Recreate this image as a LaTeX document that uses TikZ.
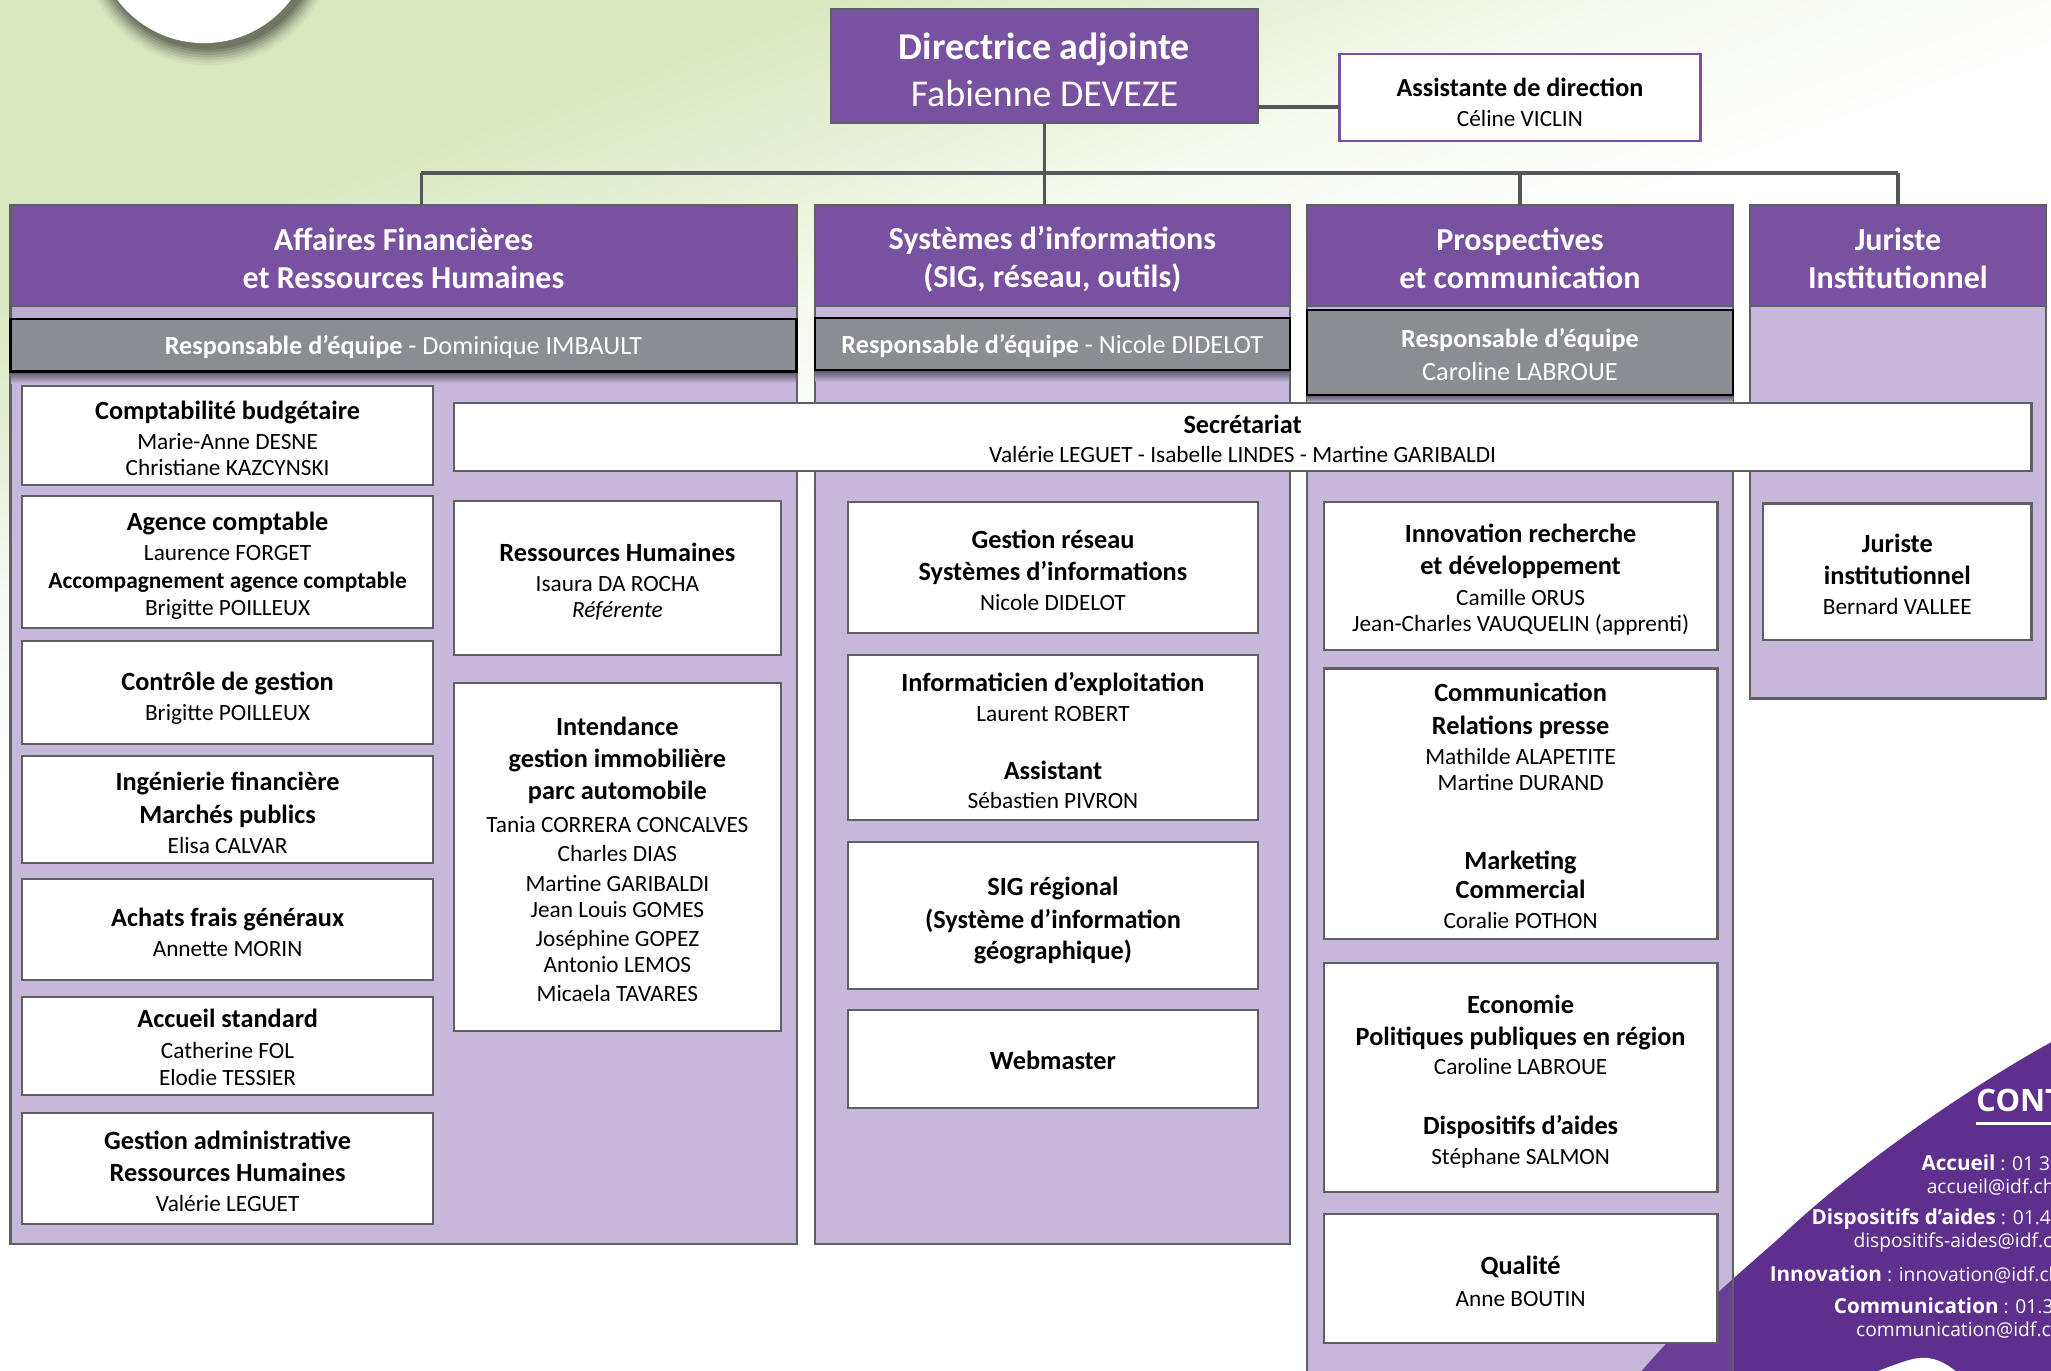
\documentclass[tikz,border=0pt]{standalone}
\usepackage{fontspec}
\setmainfont{Carlito}
\newfontfamily\contactfont{Open Sans}
\definecolor{headp}{HTML}{7851A0}
\definecolor{bodyp}{HTML}{C5B8DA}
\definecolor{blobp}{HTML}{5F2F8E}
\definecolor{blobq}{HTML}{6A3D96}
\definecolor{respg}{HTML}{8A8D91}
\definecolor{edgeg}{HTML}{5F6064}
\definecolor{linkg}{HTML}{54565A}
\definecolor{shadowg}{HTML}{3A3C32}
\definecolor{bga}{HTML}{DAE8C0}
\definecolor{bgb}{HTML}{EAF2DC}
\definecolor{bgc}{HTML}{F6FAF0}
\pgfdeclareverticalshading{bgshade}{3000bp}{color(0bp)=(white); color(1091bp)=(white); color(1165bp)=(bgc); color(1206bp)=(bgb); color(1270bp)=(bga); color(2000bp)=(bga)}
\newcommand{\strutx}{\vrule width 0pt height 7pt depth 3pt}
\newcommand{\hstr}{\vrule width 0pt height 11.4pt depth 0.6pt}
\newcommand{\tstr}{\vrule width 0pt height 13.5pt depth 0.4pt}
\newcommand{\astr}{\vrule width 0pt height 10.8pt depth 0.2pt}
\newcommand{\rstr}{\vrule width 0pt height 9pt depth 0.5pt}
\newcommand{\qstr}{\vrule width 0pt height 9.5pt depth 0.5pt}
\newcommand{\T}[1]{{\fontsize{10.05}{10}\selectfont\bfseries\strutx #1}}
\newcommand{\Ts}[1]{{\fontsize{8.95}{10}\selectfont\bfseries\strutx #1}}
\newcommand{\N}[1]{{\fontsize{8.9}{10}\selectfont\strutx #1}}
\newcommand{\I}[1]{{\fontsize{8.9}{10}\selectfont\itshape\strutx #1}}
\newcommand{\B}[1]{{\fontsize{7.9}{10}\selectfont\bfseries #1}}
\newcommand{\bx}[7]{%
  \node[boxst,minimum width={(#4-#2)*0.5},minimum height={(#5-#3)*0.5}] (#1) at ({(#2+#4)/2},{(#3+#5)/2}) {};
  \node[textst] (#1-t) at ({(#2+#4)/2},{#6+2.5}) {#7};}
\tikzset{
  x=0.5pt,y=-0.5pt,
  boxst/.style={draw=edgeg,fill=white,line width=0.85pt,inner sep=0pt,outer sep=0pt},
  textst/.style={align=center,inner sep=0pt,outer sep=0pt,text=black,font=\fontsize{9}{10}\selectfont\lineskiplimit -20pt},
  headst/.style={draw=edgeg,fill=headp,line width=0.8pt,inner sep=0pt,outer sep=0pt,text=white,align=center,font=\fontsize{12.25}{14.5}\selectfont\bfseries\lineskiplimit -20pt},
  bodyst/.style={draw=edgeg,fill=bodyp,line width=0.8pt,inner sep=0pt,outer sep=0pt},
  respst/.style={draw=black,fill=respg,line width=0.9pt,inner sep=0pt,outer sep=0pt,text=white,align=center,font=\fontsize{10.03}{12.5}\selectfont\lineskiplimit -20pt},
  linkst/.style={draw=linkg,line width=1.2pt},
  shadest/.style={top color=black!55!bodyp,bottom color=bodyp,draw=none},
  contactst/.style={anchor=west,inner sep=0pt,outer sep=0pt,text=white,font=\contactfont\fontsize{7.35}{10}\selectfont},
}
\def\blobpath{(1575,793) .. controls (1510,828) and (1420,890) .. (1364,943) .. controls (1340,965) and (1290,1005) .. (1245,1060) -- (1575,1060) -- cycle}
\begin{document}
\begin{tikzpicture}
\useasboundingbox (0,0) rectangle (1568,1048.1);
\clip (0,0) rectangle (1568,1048.1);
% background
\node[inner sep=0pt,rotate=19.8] (bg) at (784,524) {\pgfuseshading{bgshade}};
% round logo with shadow
\foreach \r/\o in {97/0.05,95/0.07,93/0.10,91/0.13,89/0.16,87/0.20,85/0.25}{
  \fill[shadowg,opacity=\o] (159,-47) circle[radius=\r];}
\node[circle,fill=white,inner sep=0pt,minimum size=83pt] (logo) at (156,-50) {};
% contact shape
\fill[blobp] \blobpath;
\path[fill=white] (1425,1052) .. controls (1445,1045) and (1460,1038) .. (1470,1038) .. controls (1482,1038) and (1490,1044) .. (1500,1052) -- cycle;
% columns
\node[bodyst,minimum width={601*0.5},minimum height={794*0.5}] (c1) at (308.5,554) {};
\node[bodyst,minimum width={363*0.5},minimum height={794*0.5}] (c2) at (804.5,554) {};
\node[bodyst,minimum width={326*0.5},minimum height={913*0.5}] (c3) at (1162,613.5) {};
\node[bodyst,minimum width={226*0.5},minimum height={377*0.5}] (c4) at (1451,345.5) {};
\begin{scope}
  \clip (999,157) rectangle (1325,1070);
  \fill[blobq] \blobpath;
\end{scope}
\draw[edgeg,line width=0.8pt] (1325,157) -- (1325,1070);
% column heads
\node[headst,minimum width={601*0.5},minimum height={77*0.5}] (h1) at (308.5,195.5) {\hstr Affaires Financières\\\hstr et Ressources Humaines};
\node[headst,minimum width={363*0.5},minimum height={77*0.5}] (h2) at (804.5,195.5) {\hstr Systèmes d’informations\\\hstr (SIG, réseau, outils)};
\node[headst,minimum width={326*0.5},minimum height={77*0.5}] (h3) at (1162,195.5) {\hstr Prospectives\\\hstr et communication};
\node[headst,minimum width={226*0.5},minimum height={77*0.5}] (h4) at (1451,195.5) {\hstr Juriste\\\hstr Institutionnel};
% links
\node[draw=edgeg,fill=headp,line width=0.8pt,inner sep=0pt,outer sep=0pt,text=white,align=center,font=\fontsize{14.5}{18}\selectfont\lineskiplimit -20pt,minimum width={327*0.5},minimum height={87*0.5}] (top) at (798.5,50.5) {\tstr\textbf{Directrice adjointe}\\\tstr Fabienne DEVEZE};
\node[draw=headp,fill=white,line width=0.85pt,inner sep=0pt,outer sep=0pt,align=center,font=\fontsize{10}{11.3}\selectfont\lineskiplimit -20pt,minimum width={276*0.5},minimum height={67*0.5}] (asst) at (1162,74.5) {\astr\textbf{Assistante de direction}\\\astr{\fontsize{8.9}{11.3}\selectfont Céline VICLIN}};
\coordinate (busL) at (322,132);
\coordinate (busR) at (1451,132);
\coordinate (asstL) at (asst.west |- 0,82);
\coordinate (topR) at (top.east |- 0,82);
\draw[linkst,line width=1.7pt] (topR) -- (asstL);
\draw[linkst,line width=1.6pt] (busL) -- (busR);
\draw[linkst] (top.south) -- (top.south |- h2.north);
\draw[linkst] (busL) -- (busL |- h1.north);
\draw[linkst] (h3.north |- busL) -- (h3.north);
\draw[linkst] (busR) -- (h4.north);
% team leader bars
\shade[shadest] (8.5,284) rectangle (608.5,293);
\shade[shadest] (623.5,283) rectangle (985.5,292);
\shade[shadest] (999.5,302) rectangle (1324.5,308);
\fill[black,opacity=0.06] (8.5,235) rectangle (608.5,244);
\node[respst,minimum width={601*0.5},minimum height={40*0.5}] (r1) at (308.5,264) {\rstr\textbf{Responsable d’équipe} - Dominique IMBAULT};
\node[respst,minimum width={363*0.5},minimum height={40*0.5}] (r2) at (804.5,263) {\rstr\textbf{Responsable d’équipe} - Nicole DIDELOT};
\node[respst,minimum width={326*0.5},minimum height={65*0.5}] (r3) at (1162,269.5) {\qstr\textbf{Responsable d’équipe}\\\qstr Caroline LABROUE};
% secretariat
\bx{sec}{347}{308}{1553}{360}{336}{\T{Secrétariat}\\[1pt]\N{Valérie LEGUET - Isabelle LINDES - Martine GARIBALDI}}
% column 1
\bx{b11}{17}{295}{331}{371}{335.5}{\T{Comptabilité budgétaire}\\[1.5pt]\N{Marie-Anne DESNE}\\\N{Christiane KAZCYNSKI}}
\bx{b12}{17}{379}{331}{480}{431.5}{\T{Agence comptable}\\[1.5pt]\N{Laurence FORGET}\\[0.5pt]\Ts{Accompagnement agence comptable}\\[0.5pt]\N{Brigitte POILLEUX}}
\bx{b13}{17}{490}{331}{569}{532.5}{\T{Contrôle de gestion}\\[1.5pt]\N{Brigitte POILLEUX}}
\bx{b14}{17}{578}{331}{660}{622}{\T{Ingénierie financière}\\[2.5pt]\T{Marchés publics}\\[1.5pt]\N{Elisa CALVAR}}
\bx{b15}{17}{672}{331}{749}{713.5}{\T{Achats frais généraux}\\[1.5pt]\N{Annette MORIN}}
\bx{b16}{17}{762}{331}{837}{801}{\T{Accueil standard}\\[2pt]\N{Catherine FOL}\\\N{Elodie TESSIER}}
\bx{b17}{17}{851}{331}{936}{896}{\T{Gestion administrative}\\[2.5pt]\T{Ressources Humaines}\\[1.5pt]\N{Valérie LEGUET}}
% column 1b
\bx{b21}{347}{383}{597}{501}{444}{\T{Ressources Humaines}\\[1.5pt]\N{Isaura DA ROCHA}\\\I{Référente}}
\bx{b22}{347}{522}{597}{788}{657.5}{\T{Intendance}\\[2pt]\T{gestion immobilière}\\[2.5pt]\T{parc automobile}\\[2.5pt]\N{Tania CORRERA CONCALVES}\\[1pt]\N{Charles DIAS}\\[1.5pt]\N{Martine GARIBALDI}\\\N{Jean Louis GOMES}\\[1pt]\N{Joséphine GOPEZ}\\\N{Antonio LEMOS}\\[1pt]\N{Micaela TAVARES}}
% column 2
\bx{b31}{648}{384}{962}{484}{436.5}{\T{Gestion réseau}\\[2pt]\T{Systèmes d’informations}\\[1.5pt]\N{Nicole DIDELOT}}
\bx{b32}{648}{501}{962}{627}{566.5}{\T{Informaticien d’exploitation}\\[1.5pt]\N{Laurent ROBERT}\\[12pt]\T{Assistant}\\[1pt]\N{Sébastien PIVRON}}
\bx{b33}{648}{644}{962}{756}{702.5}{\T{SIG régional}\\[2.5pt]\T{(Système d’information}\\[2pt]\T{géographique)}}
\bx{b34}{648}{772}{962}{847}{811}{\T{Webmaster}}
% column 3
\bx{b41}{1012}{384}{1313}{497}{442}{\T{Innovation recherche}\\[2.5pt]\T{et développement}\\[1.5pt]\N{Camille ORUS}\\\N{Jean-Charles VAUQUELIN (apprenti)}}
\bx{b42}{1012}{511}{1313}{718}{616.5}{\T{Communication}\\[2.5pt]\T{Relations presse}\\[1.5pt]\N{Mathilde ALAPETITE}\\\N{Martine DURAND}\\[20pt]\T{Marketing}\\[1pt]\T{Commercial}\\[1.5pt]\N{Coralie POTHON}}
\bx{b43}{1012}{736}{1313}{911}{826}{\T{Economie}\\[2.5pt]\T{Politiques publiques en région}\\[1pt]\N{Caroline LABROUE}\\[13pt]\T{Dispositifs d’aides}\\[1.5pt]\N{Stéphane SALMON}}
\bx{b44}{1012}{928}{1313}{1027}{980}{\T{Qualité}\\[2pt]\N{Anne BOUTIN}}
% column 4
\bx{b51}{1348}{385}{1553}{489}{439.5}{\T{Juriste}\\[2pt]\T{institutionnel}\\[1.5pt]\N{Bernard VALLEE}}
% contact block
\node[contactst,font=\contactfont\bfseries\fontsize{11.8}{12}\selectfont] (k0) at (1511,841) {CONT};
\coordinate (kL) at (1511,859);
\coordinate (kR) at (1568,859);
\draw[white,line width=0.9pt] (kL) -- (kR);
\node[contactst] (k1) at (1469,889) {\B{Accueil} : 01 3};
\node[contactst] (k2) at (1473,907.5) {accueil@idf.ch};
\node[contactst] (k3) at (1385,932) {\B{Dispositifs d’aides} : 01.4};
\node[contactst] (k4) at (1417,950) {dispositifs-aides@idf.ch};
\node[contactst] (k5) at (1353,974) {\B{Innovation} : innovation@idf.ch};
\node[contactst] (k6) at (1402,998.5) {\B{Communication} : 01.3};
\node[contactst] (k7) at (1419,1017) {communication@idf.ch};
\end{tikzpicture}
\end{document}
